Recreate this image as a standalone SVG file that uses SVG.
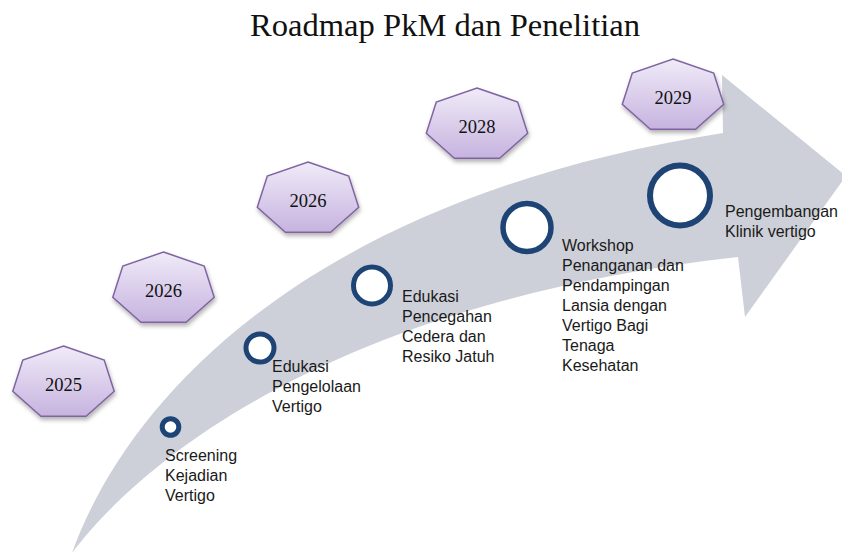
<svg xmlns="http://www.w3.org/2000/svg" width="842" height="555" viewBox="0 0 842 555">
<defs>
  <linearGradient id="hexGrad" x1="0" y1="0" x2="0" y2="1">
    <stop offset="0" stop-color="#f0ebf8"/>
    <stop offset="1" stop-color="#c6b3df"/>
  </linearGradient>
  <filter id="shadow" x="-20%" y="-20%" width="140%" height="150%">
    <feDropShadow dx="1" dy="3" stdDeviation="2" flood-color="#000" flood-opacity="0.3"/>
  </filter>
  <polygon id="hept" points="0,-37 40.7,-23 50.7,8.2 22.6,33.3 -22.6,33.3 -50.7,8.2 -40.7,-23"/>
  <style>
    .hex { fill: url(#hexGrad); stroke: #8064a2; stroke-width: 1.5; filter: url(#shadow); }
    .year { font-family: "Liberation Serif", serif; font-size: 18.5px; fill: #111; text-anchor: middle; }
    .title { font-family: "Liberation Serif", serif; font-size: 31px; fill: #111; }
    .lbl { font-family: "Liberation Sans", Arial, sans-serif; font-size: 16px; fill: #1a1a1a; }
    .dot { fill: #fff; stroke: #1d4475; }
    .arrow { fill: #cdd0d8; }
  </style>
</defs>
<rect width="842" height="555" fill="#fff"/>

<text class="title" x="250" y="36" textLength="390" lengthAdjust="spacingAndGlyphs">Roadmap PkM dan Penelitian</text>

<g id="connectors">
  <path class="arrow" d="M72,553 C125,405 300,200 723,133 L722,75 L846,176 L745,317 L738,257 C350,300 150,450 72,553 Z"/>
</g>

<g id="y2025">
  <use href="#hept" class="hex" x="63.5" y="383"/>
  <text class="year" x="63.5" y="391">2025</text>
</g>
<g id="y2026a">
  <use href="#hept" class="hex" x="163.5" y="289"/>
  <text class="year" x="163.5" y="297">2026</text>
</g>
<g id="y2026b">
  <use href="#hept" class="hex" x="308" y="199"/>
  <text class="year" x="308" y="207">2026</text>
</g>
<g id="y2028">
  <use href="#hept" class="hex" x="477" y="125"/>
  <text class="year" x="477" y="133">2028</text>
</g>
<g id="y2029">
  <use href="#hept" class="hex" x="673" y="96"/>
  <text class="year" x="673" y="104">2029</text>
</g>

<g id="m1">
  <circle class="dot" cx="170.5" cy="427" r="8.3" stroke-width="5"/>
  <text class="lbl" x="165" y="461">Screening</text>
  <text class="lbl" x="165" y="481">Kejadian</text>
  <text class="lbl" x="165" y="501">Vertigo</text>
</g>
<g id="m2">
  <circle class="dot" cx="260" cy="348" r="14" stroke-width="5"/>
  <text class="lbl" x="272" y="372">Edukasi</text>
  <text class="lbl" x="272" y="392">Pengelolaan</text>
  <text class="lbl" x="272" y="412">Vertigo</text>
</g>
<g id="m3">
  <circle class="dot" cx="372" cy="285.5" r="18.5" stroke-width="5"/>
  <text class="lbl" x="402" y="302">Edukasi</text>
  <text class="lbl" x="402" y="322">Pencegahan</text>
  <text class="lbl" x="402" y="342">Cedera dan</text>
  <text class="lbl" x="402" y="362">Resiko Jatuh</text>
</g>
<g id="m4">
  <circle class="dot" cx="527" cy="227.5" r="24" stroke-width="5.5"/>
  <text class="lbl" x="562" y="251">Workshop</text>
  <text class="lbl" x="562" y="271">Penanganan dan</text>
  <text class="lbl" x="562" y="291">Pendampingan</text>
  <text class="lbl" x="562" y="311">Lansia dengan</text>
  <text class="lbl" x="562" y="331">Vertigo Bagi</text>
  <text class="lbl" x="562" y="351">Tenaga</text>
  <text class="lbl" x="562" y="371">Kesehatan</text>
</g>
<g id="m5">
  <circle class="dot" cx="680" cy="195.5" r="30" stroke-width="6"/>
  <text class="lbl" x="725" y="217">Pengembangan</text>
  <text class="lbl" x="725" y="237">Klinik vertigo</text>
</g>
</svg>
